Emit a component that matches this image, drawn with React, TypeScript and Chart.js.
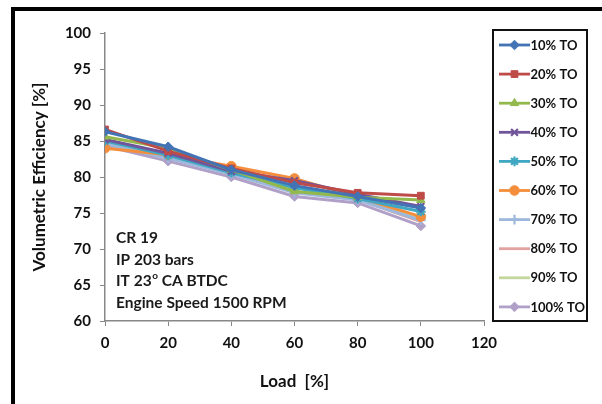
import React, { useEffect, useRef } from "react";
import { Chart, registerables } from "chart.js";
import { drawPoint } from "chart.js/helpers";

Chart.register(...registerables);

const loads = [0, 20, 40, 60, 80, 100];
const seriesNames = ["10% TO", "20% TO", "30% TO", "40% TO", "50% TO", "60% TO", "70% TO", "80% TO", "90% TO", "100% TO"];
const to10 = [86.3, 84.2, 81.0, 78.8, 77.3, 75.7];
const to20 = [86.6, 83.6, 81.2, 79.2, 77.8, 77.4];
const to30 = [85.6, 84.0, 81.0, 78.0, 77.2, 76.8];
const to40 = [85.2, 83.3, 80.8, 79.5, 77.6, 75.9];
const to50 = [85.0, 83.0, 80.6, 78.5, 77.0, 75.2];
const to60 = [84.0, 83.1, 81.5, 79.8, 77.2, 74.5];
const to70 = [84.6, 82.6, 80.4, 77.8, 76.8, 74.0];
const to80 = [84.5, 82.8, 80.5, 78.0, 76.9, 73.8];
const to90 = [84.8, 83.3, 80.6, 77.9, 77.1, 74.2];
const to100 = [84.3, 82.2, 80.0, 77.3, 76.4, 73.2];
const seriesValues = [to10, to20, to30, to40, to50, to60, to70, to80, to90, to100];
const seriesColors = ["#4274B5", "#BE4B48", "#93B84C", "#71559A", "#3FA7C2", "#F48E3C", "#9DB8DC", "#E0A3A1", "#C3D69B", "#B0A0C8"];
const seriesMarkers = ["rectRot", "rect", "triangle", "crossRot", "star", "circle", "cross", "none", "none", "rectRot"];
const notes = ["CR 19", "IP 203 bars", "IT 23|o| CA BTDC", "Engine Speed 1500 RPM"];
const xTitle = "Load  [%]";
const yTitle = "Volumetric Efficiency [%]";

const FONT = "Lato, 'Open Sans', sans-serif";

const overlay = {
  id: "overlay",
  afterDraw(chart: any) {
    const ctx = chart.ctx as CanvasRenderingContext2D;
    ctx.save();
    ctx.strokeStyle = "#111";
    ctx.lineWidth = 2;
    ctx.strokeRect(493, 30, 94, 291);
    chart.data.datasets.forEach((ds: any, i: number) => {
      const y = 45 + i * 29.1;
      ctx.strokeStyle = ds.borderColor;
      ctx.lineWidth = 2.8;
      ctx.beginPath();
      ctx.moveTo(499, y);
      ctx.lineTo(530, y);
      ctx.stroke();
      if (ds.pointRadius > 0) {
        ctx.fillStyle = ds.borderColor;
        ctx.strokeStyle = ds.borderColor;
        ctx.lineWidth = ds.pointBorderWidth;
        drawPoint(ctx, { pointStyle: ds.pointStyle, rotation: 0, radius: ds.pointRadius, borderWidth: ds.pointBorderWidth } as any, 514.5, y);
      }
      ctx.fillStyle = "#111";
      ctx.font = `bold 13px ${FONT}`;
      ctx.textBaseline = "middle";
      ctx.textAlign = "left";
      ctx.fillText(ds.label, 530.5, y + 0.5);
    });
    ctx.fillStyle = "#1a1a1a";
    ctx.textBaseline = "middle";
    notes.forEach((n, i) => {
      const y = 238 + i * 21.5;
      const parts = n.split("|");
      let x = 116;
      parts.forEach((p, k) => {
        if (k === 1) {
          ctx.font = `bold 10px ${FONT}`;
          ctx.fillText(p, x + 0.5, y - 5);
          x += ctx.measureText(p).width + 0.5;
        } else {
          ctx.font = `bold 15.5px ${FONT}`;
          ctx.fillText(p, x, y);
          x += ctx.measureText(p).width;
        }
      });
    });
    ctx.restore();
  },
};

export default function App() {
  const ref = useRef<HTMLCanvasElement | null>(null);
  useEffect(() => {
    if (!ref.current) return;
    const datasets = seriesNames.map((name, i) => ({
      label: name,
      data: loads.map((x, j) => ({ x, y: seriesValues[i][j] })),
      borderColor: seriesColors[i],
      backgroundColor: seriesColors[i],
      borderWidth: 3,
      pointStyle: seriesMarkers[i] === "none" ? "circle" : seriesMarkers[i],
      pointRadius: seriesMarkers[i] === "none" ? 0 : 4.8,
      pointBorderWidth: ["crossRot", "star", "cross"].includes(seriesMarkers[i]) ? 2.2 : 1,
      pointBackgroundColor: seriesColors[i],
      pointBorderColor: seriesColors[i],
      tension: 0,
    }));
    const chart = new Chart(ref.current, {
      type: "line",
      data: { datasets },
      plugins: [overlay],
      options: {
        animation: false,
        responsive: false,
        devicePixelRatio: 1,
        layout: { padding: { top: 33, right: 118, bottom: 0, left: 0 } },
        plugins: { legend: { display: false }, tooltip: { enabled: false } },
        scales: {
          x: {
            type: "linear",
            min: 0,
            max: 120,
            afterFit: (s: any) => { s.height = 83; },
            ticks: { stepSize: 20, color: "#111", font: { family: FONT, size: 15, weight: "bold" }, padding: 8, maxRotation: 0 },
            grid: { display: true, drawOnChartArea: false, drawTicks: true, tickLength: 5, color: "#888" },
            border: { display: true, color: "#888", width: 1.5 },
            title: { display: true, text: xTitle, color: "#111", font: { family: FONT, size: 17, weight: "bold" }, padding: { top: 4, bottom: 12 } },
          },
          y: {
            type: "linear",
            min: 60,
            max: 100,
            afterFit: (s: any) => { s.width = 105; },
            ticks: { stepSize: 5, color: "#111", font: { family: FONT, size: 15, weight: "bold" }, padding: 9 },
            grid: { display: true, drawOnChartArea: false, drawTicks: true, tickLength: 5, color: "#888" },
            border: { display: true, color: "#888", width: 1.5 },
            title: { display: true, text: yTitle, color: "#111", font: { family: FONT, size: 17, weight: "bold" }, padding: { top: 29, bottom: 0 } },
          },
        },
      },
    } as any);
    return () => chart.destroy();
  }, []);
  return (
    <div style={{ position: "fixed", left: 0, top: 0, width: 602, height: 404, overflow: "hidden", background: "#fff" }}>
      <div style={{ position: "absolute", left: 11, top: 7, width: 620, height: 420, border: "4px solid #000", boxSizing: "border-box" }} />
      <canvas ref={ref} width={602} height={404} style={{ position: "absolute", left: 0, top: 0, width: 602, height: 404 }} />
    </div>
  );
}
